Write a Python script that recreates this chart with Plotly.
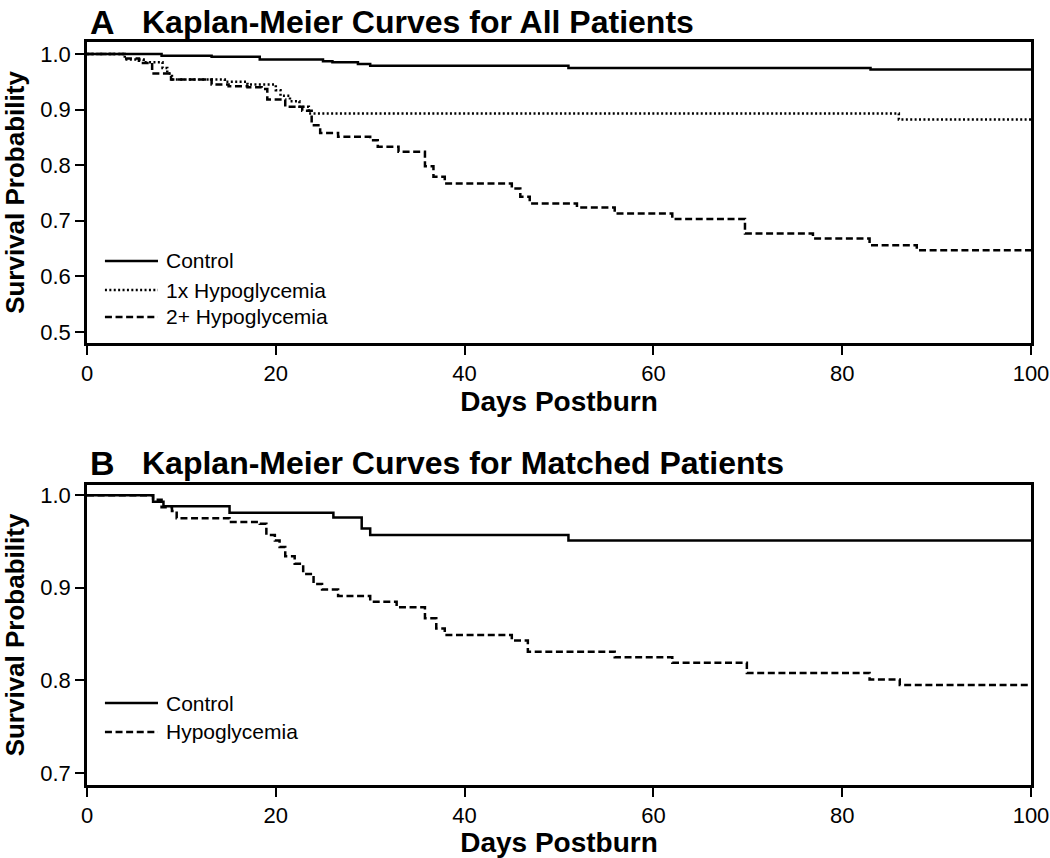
import plotly.graph_objects as go

# ---------------- data ----------------
# Panel A: all patients
a_ctrl_t = [0, 7.9, 13.2, 18.3, 25, 26, 28.7, 30, 51, 83, 100]
a_ctrl_s = [1.0, 0.997, 0.995, 0.990, 0.987, 0.985, 0.982, 0.979, 0.975, 0.972, 0.972]

a_1x_t = [0, 4, 6, 8, 8.5, 9, 14.6, 17, 20, 20.5, 21.5, 22.5, 23.5, 86, 100]
a_1x_s = [1.0, 0.990, 0.985, 0.975, 0.965, 0.954, 0.950, 0.945, 0.935, 0.925, 0.915, 0.905, 0.893, 0.882, 0.882]

a_2p_t = [0, 4, 5.5, 6.9, 8.9, 13.2, 15, 17, 18.5, 19.1, 21, 22.8, 23.8, 24.7, 26.6, 30, 30.8,
          33, 35.8, 36.7, 37.9, 45, 45.9, 46.9, 51.9, 55.9, 62, 69.7, 76.9, 82.9, 87.9, 100]
a_2p_s = [1.0, 0.992, 0.984, 0.965, 0.954, 0.945, 0.942, 0.940, 0.937, 0.918, 0.905, 0.898, 0.872,
          0.858, 0.851, 0.845, 0.833, 0.824, 0.798, 0.779, 0.767, 0.758, 0.743, 0.731, 0.724,
          0.713, 0.703, 0.677, 0.668, 0.656, 0.647, 0.647]

# Panel B: matched patients
b_ctrl_t = [0, 7, 8.1, 15.1, 26.1, 29.1, 30, 51, 100]
b_ctrl_s = [1.0, 0.993, 0.988, 0.981, 0.976, 0.964, 0.957, 0.951, 0.951]

b_hypo_t = [0, 7, 7.9, 9, 9.5, 15.1, 18.3, 19, 19.9, 20.4, 21, 22, 22.9, 24, 24.9, 26.6, 30,
            32.8, 35.8, 37, 37.9, 45, 46.7, 55.9, 62, 69.9, 82.9, 86.1, 100]
b_hypo_s = [1.0, 0.995, 0.987, 0.983, 0.975, 0.971, 0.969, 0.957, 0.951, 0.944, 0.934, 0.926,
            0.915, 0.904, 0.898, 0.891, 0.885, 0.879, 0.867, 0.856, 0.849, 0.843, 0.831, 0.825,
            0.819, 0.808, 0.801, 0.795, 0.795]

legend_a = ["Control", "1x Hypoglycemia", "2+ Hypoglycemia"]
legend_b = ["Control", "Hypoglycemia"]

x_ticks = [0, 20, 40, 60, 80, 100]
ya_ticks = [0.5, 0.6, 0.7, 0.8, 0.9, 1.0]
yb_ticks = [0.7, 0.8, 0.9, 1.0]

title_a = "Kaplan-Meier Curves for All Patients"
title_b = "Kaplan-Meier Curves for Matched Patients"
x_title = "Days Postburn"
y_title = "Survival Probability"

# ---------------- styling ----------------
FONT = "Liberation Sans, Arial, Helvetica, sans-serif"
LW = 2.5
SOLID = "solid"
DOT = "2px,2.4px"
DASH = "7px,3.6px"

fig = go.Figure()

def add_curve(t, s, name, dash, xa, ya):
    fig.add_trace(go.Scatter(
        x=t, y=s, mode="lines", name=name, line=dict(color="black", width=LW, dash=dash, shape="hv"),
        xaxis=xa, yaxis=ya, showlegend=False, hoverinfo="skip"))

add_curve(a_ctrl_t, a_ctrl_s, legend_a[0], SOLID, "x", "y")
add_curve(a_1x_t, a_1x_s, legend_a[1], DOT, "x", "y")
add_curve(a_2p_t, a_2p_s, legend_a[2], DASH, "x", "y")
add_curve(b_ctrl_t, b_ctrl_s, legend_b[0], SOLID, "x2", "y2")
add_curve(b_hypo_t, b_hypo_s, legend_b[1], DASH, "x2", "y2")

axis_common = dict(
    showline=True, linecolor="black", linewidth=LW, mirror=True,
    ticks="outside", ticklen=9, tickwidth=2, tickcolor="black",
    showgrid=False, zeroline=False, automargin=False,
    tickfont=dict(family=FONT, size=22, color="black"),
)

xa = dict(axis_common, range=[0, 100], tickvals=x_ticks, ticktext=[str(v) for v in x_ticks],
          title=dict(text="<b>" + x_title + "</b>", font=dict(family=FONT, size=28, color="black"), standoff=4))

ytitle = dict(text="<b>" + y_title + "</b>", font=dict(family=FONT, size=26, color="black"), standoff=12)

fig.update_layout(
    width=1050, height=858,
    margin=dict(l=87, r=19, t=42, b=73),
    paper_bgcolor="white", plot_bgcolor="white",
    font=dict(family=FONT, color="black"),
    showlegend=False,
    xaxis=dict(xa, anchor="y"),
    yaxis=dict(axis_common, domain=[0.5949, 1.0], anchor="x", range=[0.48, 1.0216],
               tickvals=ya_ticks, tickformat=".1f", title=ytitle),
    xaxis2=dict(xa, anchor="y2"),
    yaxis2=dict(axis_common, domain=[0.0, 0.4038], anchor="x2", range=[0.687, 1.011],
                tickvals=yb_ticks, tickformat=".1f", title=ytitle),
)

# panel titles
def panel_title(letter, text, ypos):
    fig.add_annotation(xref="paper", yref="paper", x=0.001, y=ypos, xanchor="left", yanchor="middle",
                       text="<b>" + letter + "</b>", showarrow=False,
                       font=dict(family=FONT, size=34, color="black"))
    fig.add_annotation(xref="paper", yref="paper", x=0.0565, y=ypos, xanchor="left", yanchor="middle",
                       text="<b>" + text + "</b>", showarrow=False,
                       font=dict(family=FONT, size=32, color="black"))

panel_title("A", title_a, 1.0275)
panel_title("B", title_b, 0.4334)

# legends (line sample + label), positioned in axis-domain coordinates
def legend(labels, dashes, xr, yr, rows):
    for lab, d, yy in zip(labels, dashes, rows):
        fig.add_shape(type="line", xref=xr + " domain", yref=yr + " domain",
                      x0=0.019, x1=0.0752, y0=yy, y1=yy,
                      line=dict(color="black", width=LW, dash=d))
        fig.add_annotation(xref=xr + " domain", yref=yr + " domain", x=0.0815, y=yy,
                           xanchor="left", yanchor="middle", text=lab, showarrow=False,
                           font=dict(family=FONT, size=21, color="black"))

legend(legend_a, [SOLID, DOT, DASH], "x", "y", [0.2724, 0.176, 0.0864])
legend(legend_b, [SOLID, DASH], "x2", "y2", [0.2733, 0.1767])

fig.write_html("out.html", config={"displayModeBar": False},
               post_script="document.body.style.margin='0';document.body.style.padding='0';")
